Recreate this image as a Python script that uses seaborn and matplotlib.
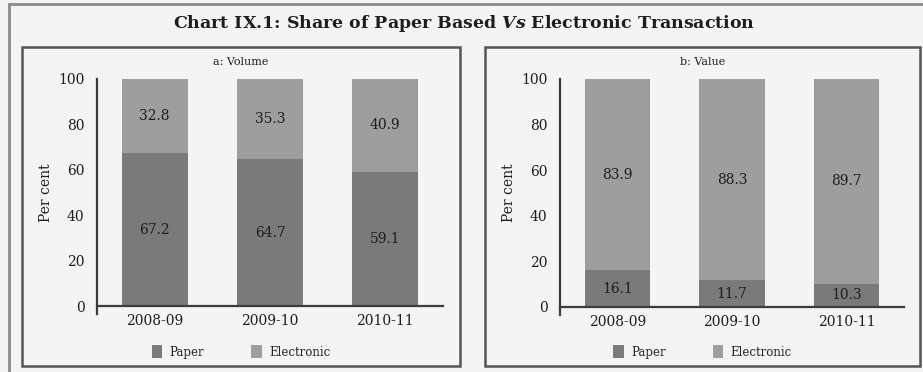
import matplotlib
matplotlib.use("Agg")
import matplotlib.pyplot as plt
from matplotlib.patches import Rectangle, Patch
import seaborn as sns
import pandas as pd

years = ["2008-09", "2009-10", "2010-11"]
volume_paper = [67.2, 64.7, 59.1]
volume_electronic = [32.8, 35.3, 40.9]
value_paper = [16.1, 11.7, 10.3]
value_electronic = [83.9, 88.3, 89.7]

title = "Chart IX.1: Share of Paper Based $\\mathbfit{Vs}$ Electronic Transaction"
panel_titles = ["a: Volume", "b: Value"]
y_ticks = [0, 20, 40, 60, 80, 100]

PAPER = "#7a7a7a"
ELEC = "#9e9e9e"
BG = "#f4f4f4"
AXC = "#3c3c3c"
TXT = "#1e1e1e"

sns.set_theme(style="white")
plt.rcParams["font.family"] = ["DejaVu Serif"]
plt.rcParams["mathtext.fontset"] = "dejavuserif"

W, H = 923, 372
fig = plt.figure(figsize=(W / 100, H / 100), dpi=100, facecolor=BG)


def px_rect(x0, y0, x1, y1):
    return [x0 / W, 1 - y1 / H, (x1 - x0) / W, (y1 - y0) / H]


# outer frame and panel boxes
fig.patches.append(Rectangle((9 / W, -0.02), (W - 9) / W + 0.01, 1 - 4 / H + 0.02,
                             transform=fig.transFigure, fill=False,
                             edgecolor="#8a8a8a", lw=2.0))
boxes = [(22, 47, 460, 366), (485, 47, 920, 366)]
for (x0, y0, x1, y1) in boxes:
    fig.patches.append(Rectangle((x0 / W, 1 - y1 / H), (x1 - x0) / W, (y1 - y0) / H,
                                 transform=fig.transFigure, fill=False,
                                 edgecolor="#555555", lw=1.8))

fig.text(464 / W, 1 - 24 / H, title, ha="center", va="center",
         fontsize=12.5, fontweight="bold", color=TXT)

axes_px = [(97, 79, 443, 306), (560, 79, 904, 307)]
datasets = [(volume_paper, volume_electronic), (value_paper, value_electronic)]

for i, ((paper, elec), (x0, y0, x1, y1), box) in enumerate(zip(datasets, axes_px, boxes)):
    ax = fig.add_axes(px_rect(x0, y0, x1, y1))
    ax.set_facecolor("none")
    total = [p + e for p, e in zip(paper, elec)]
    df = pd.DataFrame({"year": years, "paper": paper, "electronic": elec, "total": total})

    # stacked columns: full height in the electronic shade, paper share laid over it
    sns.barplot(data=df, x="year", y="total", color=ELEC, width=0.57,
                saturation=1, ax=ax, edgecolor="none")
    sns.barplot(data=df, x="year", y="paper", color=PAPER, width=0.57,
                saturation=1, ax=ax, edgecolor="none")

    for j in range(len(years)):
        ax.text(j, paper[j] / 2, f"{paper[j]:.1f}", ha="center", va="center",
                fontsize=10, color=TXT)
        ax.text(j, paper[j] + elec[j] / 2, f"{elec[j]:.1f}", ha="center", va="center",
                fontsize=10, color=TXT)

    ax.set_xlim(-0.5, 2.5)
    ax.set_ylim(0, 100)
    ax.set_yticks(y_ticks)
    ax.set_xticks(range(len(years)))
    ax.set_xticklabels(years)
    ax.set_xticks([-0.5, 0.5, 1.5, 2.5], minor=True)
    ax.tick_params(axis="x", which="major", length=0, labelsize=10,
                   colors=TXT, pad=6)
    ax.tick_params(axis="x", which="minor", length=7, width=1.5,
                   color=AXC, direction="out")
    ax.tick_params(axis="y", length=7, width=1.5, color=AXC, direction="out",
                   labelsize=10, labelcolor=TXT, pad=2)
    ax.set_xlabel("")
    ax.set_ylabel("Per cent", fontsize=10, color=TXT, labelpad=4)
    for s in ["top", "right"]:
        ax.spines[s].set_visible(False)
    for s in ["left", "bottom"]:
        ax.spines[s].set_color(AXC)
        ax.spines[s].set_linewidth(1.6)
    ax.spines["left"].set_bounds(-3.5, 100)

    bx0, by0, bx1, by1 = box
    cx = (bx0 + bx1) / 2
    fig.text(cx / W, 1 - 62 / H, panel_titles[i], ha="center", va="center",
             fontsize=8, color=TXT)

    handles = [Patch(facecolor=PAPER, edgecolor="none"),
               Patch(facecolor=ELEC, edgecolor="none")]
    fig.legend(handles, ["Paper", "Electronic"], loc="center",
               bbox_to_anchor=(cx / W, 1 - 352 / H), ncol=2, frameon=False,
               fontsize=8.5, handlelength=0.9, handleheight=1.2,
               columnspacing=4.0, handletextpad=0.6)

fig.savefig("out.png", dpi=100, facecolor=BG)
